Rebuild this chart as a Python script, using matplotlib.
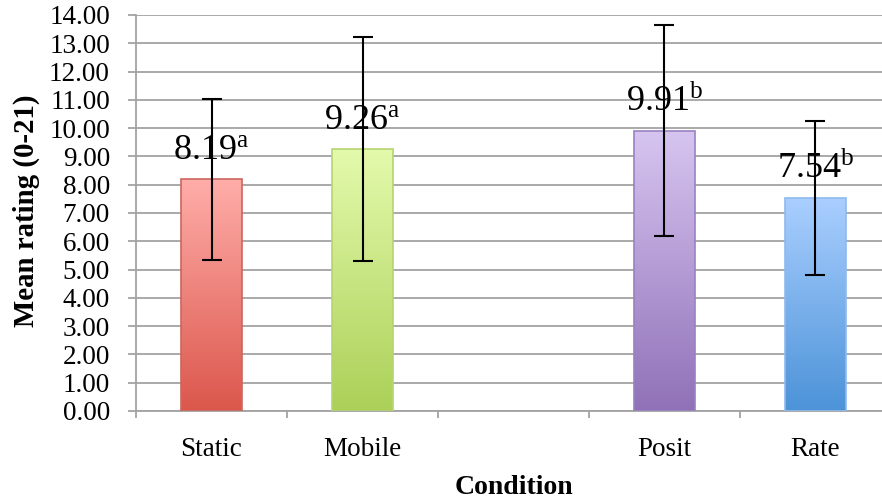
import numpy as np
import matplotlib
matplotlib.use("Agg")
import matplotlib.pyplot as plt
from matplotlib.colors import to_rgb

plt.rcParams['font.family'] = ['Liberation Serif', 'DejaVu Serif']
plt.rcParams['mathtext.fontset'] = 'custom'
plt.rcParams['mathtext.rm'] = 'Liberation Serif'
plt.rcParams['mathtext.it'] = 'Liberation Serif:italic'

# ---- data ----
categories = ['Static', 'Mobile', '', 'Posit', 'Rate']
means = [8.19, 9.26, np.nan, 9.91, 7.54]
sds = [2.84, 3.96, np.nan, 3.74, 2.73]
superscripts = ['a', 'a', '', 'b', 'b']
yticks = [0, 1, 2, 3, 4, 5, 6, 7, 8, 9, 10, 11, 12, 13, 14]

# ---- styles ----
top_colors = ['#FFADA9', '#E3FAAC', None, '#D7C5F0', '#AACFFF']
bottom_colors = ['#DB574C', '#ACD058', None, '#9071B8', '#4C93D8']
edge_colors = ['#CB6660', '#B5D46F', None, '#9982C1', '#8FB9EE']
grid_color = '#A3A3A3'

W, H = 882, 499
fig = plt.figure(figsize=(W / 100, H / 100), dpi=100)
ax = fig.add_axes([136 / W, 1 - 411 / H, 755 / W, 396 / H])

xs = np.arange(len(categories))
bw = 0.40
for i, (x, m) in enumerate(zip(xs, means)):
    if np.isnan(m):
        continue
    rect = ax.bar(x, m, width=bw, facecolor='none', edgecolor=edge_colors[i],
                  linewidth=1.2, zorder=3)[0]
    c0 = np.array(to_rgb(bottom_colors[i]))
    c1 = np.array(to_rgb(top_colors[i]))
    t = np.linspace(0, 1, 256)[:, None]
    grad = (c0[None, :] * (1 - t) + c1[None, :] * t)[:, None, :]
    im = ax.imshow(grad, extent=[x - bw / 2, x + bw / 2, 0, m], origin='lower',
                   aspect='auto', zorder=2.5, interpolation='bilinear')
    im.set_clip_path(rect)
    ax.annotate(f'{m:.2f}' + r'$^{\mathrm{' + superscripts[i] + '}}$',
                xy=(x, m), xytext=(0, 14.5), textcoords='offset points',
                ha='center', va='baseline', fontsize=26, zorder=4)

valid = [i for i, m in enumerate(means) if not np.isnan(m)]
ax.errorbar([xs[i] for i in valid], [means[i] for i in valid],
            yerr=[sds[i] for i in valid], fmt='none', ecolor='black',
            elinewidth=1.5, capsize=7.5, capthick=1.5, zorder=5)

ax.set_xlim(-0.5, len(categories) - 0.5)
ax.set_ylim(0, 14)
ax.set_yticks(yticks)
ax.set_yticklabels([f'{v:.2f}' for v in yticks])
ax.yaxis.grid(True, color=grid_color, linewidth=1.3, zorder=0)
ax.set_axisbelow(True)

ax.set_xticks(np.arange(-0.5, len(categories), 1.0))
ax.set_xticklabels([])
ax.set_xticks(xs, minor=True)
ax.set_xticklabels(categories, minor=True)
ax.tick_params(axis='x', which='major', length=5, width=1.3, color=grid_color,
               direction='out')
ax.tick_params(axis='x', which='minor', length=0, pad=19, labelsize=19.5)
ax.tick_params(axis='y', length=5.8, width=1.3, color=grid_color, pad=13,
               labelsize=19.5)

for s in ['top', 'right']:
    ax.spines[s].set_visible(False)
for s in ['left', 'bottom']:
    ax.spines[s].set_color(grid_color)
    ax.spines[s].set_linewidth(1.3)

fig.text(514 / W, 1 - 487 / H, 'Condition', ha='center', va='center',
         fontsize=20, fontweight='bold')
fig.text(26 / W, 1 - 211 / H, 'Mean rating (0-21)', ha='center', va='center',
         rotation=90, fontsize=20.8, fontweight='bold')

fig.savefig('out.png', dpi=100)
